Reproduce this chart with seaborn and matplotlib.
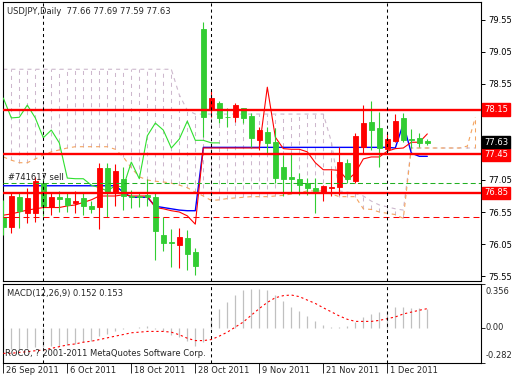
import matplotlib
matplotlib.use("Agg")
import matplotlib.pyplot as plt
from matplotlib.transforms import blended_transform_factory, offset_copy
import numpy as np
import pandas as pd
import seaborn as sns

# ---------------- data ----------------
title_text = "USDJPY,Daily  77.66 77.69 77.59 77.63"
macd_text = "MACD(12,26,9) 0.152 0.153"
copyright_text = "ROCO, ? 2001-2011 MetaQuotes Software Corp."
order_text = "#741617 sell"

opens = [76.47, 76.31, 76.78, 76.53, 76.53, 77.00, 76.63, 76.78, 76.77, 76.69,
         76.77, 76.64, 76.63, 77.24, 76.86, 77.07, 76.80, 76.80, 76.81, 76.78,
         76.19, 76.08, 76.03, 76.14, 75.92, 79.41, 78.14, 78.25, 78.04, 78.03,
         78.17, 78.05, 77.67, 77.80, 77.64, 77.25, 77.10, 77.07, 77.00, 76.93,
         76.85, 76.93, 76.94, 77.32, 77.03, 77.57, 77.96, 77.86, 77.53, 77.66,
         78.02, 77.69, 77.71, 77.66]
highs = [76.74, 76.86, 76.86, 76.92, 77.10, 77.07, 76.85, 76.88, 76.85, 76.88,
         76.85, 76.72, 77.32, 77.32, 77.30, 77.25, 76.89, 76.85, 77.07, 76.85,
         76.47, 76.28, 76.30, 76.27, 75.99, 79.52, 78.44, 78.28, 78.17, 78.25,
         78.18, 78.10, 77.88, 77.88, 77.86, 77.44, 77.47, 77.16, 77.08, 77.08,
         76.97, 77.21, 77.57, 77.38, 77.78, 78.22, 78.28, 78.11, 77.78, 78.08,
         78.10, 77.85, 77.78, 77.69]
lows = [76.19, 76.22, 76.30, 76.38, 76.39, 76.49, 76.50, 76.55, 76.55, 76.53,
        76.50, 76.53, 76.28, 76.47, 76.64, 76.58, 76.61, 76.63, 76.64, 75.80,
        75.94, 75.69, 75.67, 75.64, 75.57, 77.72, 78.03, 77.94, 77.88, 77.96,
        77.94, 77.57, 77.52, 77.47, 77.00, 76.80, 76.86, 76.82, 76.82, 76.53,
        76.72, 76.80, 76.82, 77.00, 77.00, 77.47, 77.52, 77.25, 77.50, 77.64,
        77.64, 77.55, 77.57, 77.59]
closes = [76.31, 76.80, 76.57, 76.77, 77.03, 76.64, 76.78, 76.75, 76.66, 76.72,
          76.64, 76.60, 77.24, 76.85, 77.19, 76.80, 76.78, 76.78, 76.79, 76.25,
          76.07, 76.06, 76.16, 75.89, 75.71, 78.03, 78.33, 78.02, 78.03, 78.22,
          78.02, 77.71, 77.83, 77.63, 77.08, 77.07, 77.07, 76.97, 76.93, 76.88,
          76.96, 76.94, 77.33, 77.07, 77.74, 77.94, 77.83, 77.55, 77.69, 77.97,
          77.67, 77.67, 77.63, 77.63]

tenkan = [76.50, 76.52, 76.55, 76.58, 76.60, 76.62, 76.62, 76.62, 76.645, 76.66,
          76.70, 76.74, 76.80, 76.80, 76.80, 76.82, 76.80, 76.80, 76.80, 76.62,
          76.60, 76.57, 76.55, 76.49, 76.36, 77.55, 77.55, 77.55, 77.55, 77.55,
          77.55, 77.55, 77.55, 78.50, 77.72, 77.54, 77.53, 77.53, 77.49, 77.32,
          77.21, 77.21, 77.20, 77.05, 77.16, 77.38, 77.41, 77.41, 77.50, 77.54,
          77.55, 77.64, 77.64, 77.77]
kijun = [76.96, 76.96, 76.96, 76.96, 76.96, 76.96, 76.96, 76.96, 76.96, 76.96,
         76.96, 76.96, 76.96, 76.96, 76.96, 76.86, 76.78, 76.78, 76.78, 76.64,
         76.62, 76.60, 76.58, 76.57, 76.57, 77.56, 77.56, 77.56, 77.56, 77.56,
         77.56, 77.56, 77.56, 77.56, 77.56, 77.56, 77.56, 77.56, 77.56, 77.56,
         77.56, 77.56, 77.56, 77.56, 77.56, 77.56, 77.56, 77.56, 77.56, 77.55,
         77.93, 77.47, 77.42, 77.42]
span_a = [77.41, 77.36, 77.32, 77.32, 77.38, 77.44, 77.49, 77.52, 77.55, 77.57,
          77.57, 77.57, 77.57, 77.57, 77.53, 77.41, 77.24, 77.10, 77.05, 77.03,
          77.02, 77.00, 76.97, 76.93, 76.86, 76.80, 76.73, 76.74, 76.76, 76.77,
          76.78, 76.79, 76.79, 76.79, 76.80, 76.81, 76.83, 76.85, 76.88, 76.88,
          76.88, 76.83, 76.79, 76.79, 76.79, 76.60, 76.59, 76.55, 76.53, 76.51,
          76.45, 77.55, 77.55, 77.55, 77.55, 77.55, 77.55, 77.55, 77.58, 78.03]
span_b = [78.78, 78.78, 78.78, 78.78, 78.78, 78.78, 78.78, 78.78, 78.78, 78.78,
          78.78, 78.78, 78.78, 78.78, 78.78, 78.78, 78.78, 78.78, 78.78, 78.78,
          78.78, 78.78, 78.38, 78.14, 78.08, 78.08, 78.08, 78.08, 78.08, 78.08,
          78.08, 78.08, 78.08, 78.08, 78.08, 78.08, 78.08, 78.08, 78.08, 78.08,
          78.08, 77.65, 76.88, 76.86, 76.84, 76.80, 76.72, 76.66, 76.63, 76.60,
          76.58, 77.55, 77.55, 77.55, 77.55, 77.55, 77.55, 77.55, 77.55, 77.55]

macd_main = [-0.17, -0.17, -0.17, -0.165, -0.16, -0.155, -0.15, -0.145, -0.14, -0.13,
             -0.12, -0.11, -0.07, -0.05, -0.025, -0.015, 0.0, 0.005, 0.01, -0.01,
             -0.03, -0.06, -0.08, -0.11, -0.15, -0.12, 0.06, 0.15, 0.21, 0.26,
             0.30, 0.315, 0.315, 0.30, 0.26, 0.215, 0.17, 0.135, 0.09, 0.055,
             0.02, 0.005, 0.008, 0.015, 0.048, 0.087, 0.11, 0.125, 0.135, 0.165,
             0.168, 0.158, 0.158, 0.152]
macd_signal = [-0.208, -0.208, -0.200, -0.195, -0.187, -0.181, -0.168, -0.154, -0.140, -0.132,
               -0.118, -0.110, -0.097, -0.083, -0.069, -0.056, -0.042, -0.037, -0.031, -0.031,
               -0.031, -0.037, -0.058, -0.086, -0.105, -0.105, -0.097, -0.069, -0.037, 0.004,
               0.045, 0.100, 0.154, 0.203, 0.241, 0.258, 0.263, 0.250, 0.222, 0.195,
               0.160, 0.127, 0.094, 0.067, 0.050, 0.050, 0.050, 0.058, 0.072, 0.086,
               0.110, 0.125, 0.140, 0.153]

level_lines = [78.15, 77.45, 76.85]
order_open = 77.00
order_stop = 76.47
current_price = 77.63
price_ticks = [75.55, 76.05, 76.55, 77.05, 77.55, 78.05, 78.55, 79.05, 79.55]
hidden_price_labels = [77.55, 78.05]   # covered by the price boxes in the reference
macd_ticks = [0.356, 0.0, -0.282]
macd_tick_labels = ["0.356", "0.00", "-0.282"]
date_labels = ["26 Sep 2011", "6 Oct 2011", "18 Oct 2011", "28 Oct 2011",
               "9 Nov 2011", "21 Nov 2011", "1 Dec 2011"]
date_bars = [0, 8, 16, 24, 32, 40, 48]
separator_bars = [5, 26, 48]
chikou_shift = 26

# ---------------- style ----------------
sns.set_style("white")
plt.rcParams['font.family'] = ['DejaVu Sans']
plt.rcParams['lines.scale_dashes'] = False

RED = '#ff0000'
GREEN = '#32cd32'
SANDY = '#f4a460'
THISTLE = '#cdb8cd'
FS = 6

W, H = 520, 380
fig = plt.figure(figsize=(W / 100, H / 100), dpi=100)
fig.patch.set_facecolor('white')


def px_rect(l, t, r, b):
    return [l / W, 1 - b / H, (r - l) / W, (b - t) / H]


ax = fig.add_axes(px_rect(2.5, 2, 481, 281))
ax2 = fig.add_axes(px_rect(2.5, 283.5, 481, 362.5))

df = pd.DataFrame({"open": opens, "high": highs, "low": lows, "close": closes,
                   "tenkan": tenkan, "kijun": kijun})
df["bar"] = np.arange(len(df))
cloud = pd.DataFrame({"a": span_a, "b": span_b})
cloud["bar"] = np.arange(len(cloud))

# ---------------- Ichimoku cloud ----------------
lo = np.minimum(cloud.a, cloud.b)
hi = np.maximum(cloud.a, cloud.b)
ccol = np.where(cloud.b >= cloud.a, THISTLE, SANDY)
ax.vlines(cloud.bar, lo, hi, colors=ccol, linestyles=(0, (2.9, 2.9)), lw=0.75, zorder=1)
ax.plot(cloud.bar, cloud.b, color=THISTLE, ls=(0, (2.9, 2.9)), lw=0.8, zorder=2)
ax.plot(cloud.bar, cloud.a, color=SANDY, ls=(0, (2.9, 2.9)), lw=0.8, zorder=2)

# lines
sns.lineplot(x=df.bar, y=df.kijun, ax=ax, color='#0000ff', linewidth=1.0, zorder=3)
sns.lineplot(x=df.bar, y=df.tenkan, ax=ax, color=RED, linewidth=0.8, zorder=3)
chik = df.close.values[chikou_shift:]
sns.lineplot(x=np.arange(len(chik)), y=chik, ax=ax, color='#2ee02e', linewidth=0.8, zorder=3)

# candles
up = df.close >= df.open
col = np.where(up, RED, GREEN)
ax.vlines(df.bar, df.low, df.high, colors=col, lw=0.8, zorder=4)
body_lo = np.minimum(df.open, df.close)
body_h = np.maximum(np.abs(df.close - df.open), 0.012)
ax.bar(df.bar, body_h, bottom=body_lo, width=0.55, color=col, edgecolor=col,
       linewidth=0.6, zorder=5)

# horizontal objects
for lv in level_lines:
    ax.axhline(lv, color=RED, lw=1.7, zorder=6)
ax.axhline(order_open, color='#22b022', lw=0.75, ls=(0, (3.6, 2.2)), zorder=6)
ax.axhline(order_stop, color=RED, lw=0.75, ls=(0, (4.3, 2.9)), zorder=6)

for b in separator_bars:
    ax.axvline(b, color='black', lw=0.75, ls=(0, (2.2, 2.2)), zorder=7)
    ax2.axvline(b, color='black', lw=0.75, ls=(0, (2.2, 2.2)), zorder=7)

ax.set_xlim(-0.1, 59.71)
ax.set_ylim(75.472, 79.831)
ax.set_xlabel("")
ax.set_ylabel("")
ax.set_xticks([])
ax.yaxis.tick_right()
ax.set_yticks(price_ticks)
ax.set_yticklabels(["" if v in hidden_price_labels else f"{v:.2f}" for v in price_ticks])
ax.tick_params(axis='y', labelsize=FS, length=3, width=0.7, pad=2, colors='black', right=True)

trl = offset_copy(blended_transform_factory(ax.transAxes, ax.transData), fig=fig, x=3, y=0, units='dots')
for lv in level_lines:
    ax.text(1.0, lv, f"{lv:.2f}", transform=trl, ha='left', va='center', fontsize=FS,
            color='white', bbox=dict(boxstyle='square,pad=0.2', fc=RED, ec=RED),
            clip_on=False, zorder=10)
ax.text(1.0, current_price + 0.01, f"{current_price:.2f}", transform=trl, ha='left', va='center',
        fontsize=FS, color='white', bbox=dict(boxstyle='square,pad=0.2', fc='black', ec='black'),
        clip_on=False, zorder=10)

# ---------------- MACD ----------------
mb = np.arange(len(macd_main))
ax2.vlines(mb, 0, macd_main, colors='#c0c0c0', lw=0.9, zorder=2)
ax2.plot(mb, macd_signal, color=RED, lw=0.8, ls=(0, (1.6, 2.0)), zorder=3)
ax2.set_xlim(-0.1, 59.71)
ax2.set_ylim(-0.282, 0.356)
ax2.yaxis.tick_right()
ax2.set_yticks(macd_ticks)
ax2.set_yticklabels([])
ax2.tick_params(axis='y', length=3, width=0.7, right=True)
ax2.set_xticks(date_bars)
ax2.set_xticklabels([])
ax2.tick_params(axis='x', length=7, width=0.7, direction='out', bottom=True)
for t, ypx in zip(macd_tick_labels, [291, 327, 356]):
    fig.text(486 / W, 1 - ypx / H, t, fontsize=FS, ha='left', va='center')

trd = offset_copy(blended_transform_factory(ax2.transData, fig.transFigure), fig=fig, x=3, y=0, units='dots')
for b, lab in zip(date_bars, date_labels):
    ax2.text(b, 1 - 370.5 / H, lab, transform=trd, ha='left', va='center', fontsize=FS, clip_on=False)

for a in (ax, ax2):
    for s in a.spines.values():
        s.set_color('black')
        s.set_linewidth(0.8)
        s.set_visible(True)

fig.text(7 / W, 1 - 11 / H, title_text, fontsize=FS, ha='left', va='center')
fig.text(8 / W, 1 - 177.5 / H, order_text, fontsize=FS, ha='left', va='center', color='#202020')
fig.text(7 / W, 1 - 293.5 / H, macd_text, fontsize=FS, ha='left', va='center')
fig.text(5 / W, 1 - 354 / H, copyright_text, fontsize=FS, ha='left', va='center')

fig.savefig("out.png", dpi=100, facecolor='white')
